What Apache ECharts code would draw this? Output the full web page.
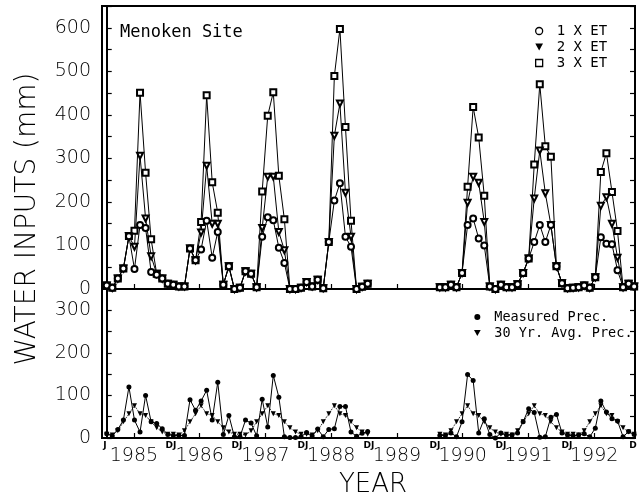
<!DOCTYPE html>
<html><head><meta charset="utf-8">
<script src="https://cdn.jsdelivr.net/npm/echarts@6/dist/echarts.min.js"></script>
<style>html,body{margin:0;padding:0;background:#fff}#c{width:641px;height:498px}</style>
</head><body><div id="c"></div>
<script>
// ---------- DATA (monthly, Jan 1985 .. Dec 1992; 1989 missing) ----------
const years = ['1985','1986','1987','1988','1989','1990','1991','1992'];
const boundaryLabels = ['J','DJ','DJ','DJ','DJ','DJ','DJ','DJ','D'];
const topTickLabels = [0,100,200,300,400,500,600];
const bottomTickLabels = [0,100,200,300];

const et1 = [ // 1 X ET (open circles)
  8,3,24,47,121,46,147,140,39,33,24,12,
  10,6,6,93,66,91,157,72,131,10,52,0,
  3,41,35,4,120,165,158,95,60,0,0,3,
  16,6,21,2,108,203,243,120,97,0,5,12,
  null,null,null,null,null,null,null,null,null,null,null,null,
  4,4,10,4,37,147,162,116,100,6,0,10,
  4,4,11,37,70,108,147,108,147,52,13,2,
  3,4,8,3,27,119,104,103,43,4,12,6];
const et2 = [ // 2 X ET (inverted triangles)
  8,3,24,47,121,97,306,162,75,35,24,12,
  10,6,6,93,66,130,283,150,150,10,52,0,
  3,41,35,4,140,258,258,131,89,0,0,3,
  16,6,21,2,108,352,426,221,120,0,5,12,
  null,null,null,null,null,null,null,null,null,null,null,null,
  4,4,10,4,37,198,258,244,154,6,0,10,
  4,4,11,37,70,208,318,220,147,52,13,2,
  3,4,8,3,27,191,211,150,72,4,12,6];
const et3 = [ // 3 X ET (open squares)
  8,3,24,47,122,134,451,267,114,35,24,12,
  10,6,6,93,66,154,445,245,175,10,52,0,
  3,41,35,4,224,398,452,260,160,0,0,3,
  16,6,21,2,108,489,597,372,157,0,5,12,
  null,null,null,null,null,null,null,null,null,null,null,null,
  4,4,10,4,37,235,418,348,214,6,0,10,
  4,4,11,37,70,286,470,328,304,52,13,2,
  3,4,8,3,27,269,312,223,133,4,12,6];
const measured = [ // Measured Prec.
  10,5,20,42,120,42,14,100,38,34,22,8,
  6,6,6,90,65,87,112,42,131,8,53,3,
  3,42,35,5,91,26,147,96,3,1,1,3,
  13,5,21,3,20,22,74,74,14,4,11,15,
  null,null,null,null,null,null,null,null,null,null,null,null,
  6,6,12,3,38,149,135,12,45,8,0,12,
  7,7,12,38,69,60,2,3,49,55,12,7,
  5,7,10,3,23,87,61,45,40,3,15,8];
const avg30 = [ // 30 Yr. Avg. Prec.
  9,7,17,38,57,76,57,53,38,24,14,9,
  9,7,17,38,57,76,57,53,38,24,14,9,
  9,7,17,38,57,76,57,53,38,24,14,9,
  9,7,17,38,57,76,57,53,38,24,14,9,
  null,null,null,null,null,null,null,null,null,null,null,null,
  9,7,17,38,57,76,57,53,38,24,14,9,
  9,7,17,38,57,76,57,53,38,24,14,9,
  9,7,17,38,57,76,57,53,38,24,14,9];

// ---------- CHART ----------
const toPairs = arr => arr.map((v, i) => [i, v == null ? '-' : v]);
const SANS = "'DejaVu Sans', sans-serif";
const MONO = "'DejaVu Sans Mono', monospace";
const chart = echarts.init(document.getElementById('c'), null, {renderer: 'canvas'});

const hiddenVal = (gi) => ({type:'value', gridIndex: gi, show:false, min:0, max:1});
const dataX = (gi) => ({type:'value', gridIndex: gi, min:-0.85, max:95.15,
  axisLine:{show:false}, axisTick:{show:false}, axisLabel:{show:false}, splitLine:{show:false}});
const yAx = (gi, max, pos, labels, labelList) => ({
  type:'value', gridIndex: gi, position: pos, min:0, max:max, interval:50,
  axisLine:{show:true, lineStyle:{color:'#000', width:2}},
  axisTick:{show:true, inside:true, length:5, lineStyle:{color:'#000', width:1.2}},
  splitLine:{show:false},
  axisLabel:{show: labels, margin:11, color:'#000', fontFamily:SANS, fontSize:19, fontWeight:300,
    showMinLabel:true, showMaxLabel:true,
    formatter: v => (labelList.indexOf(v) >= 0 ? String(v) : '')}
});

chart.setOption({
  animation:false,
  backgroundColor:'#fff',
  grid:[
    {left:102, top:6, width:533, height:283, show:true, borderColor:'#000', borderWidth:2},
    {left:102, top:289, width:533, height:149, show:true, borderColor:'#000', borderWidth:2},
    {left:101, top:289, width:526, height:149, show:false},
    {left:101, top:6, width:526, height:283, show:false},
    {left:105, top:289, width:528, height:149, show:false}
  ],
  xAxis:[
    dataX(0), dataX(1),
    {type:'category', gridIndex:2, data:years, boundaryGap:true,
      axisLine:{show:false},
      axisTick:{show:true, inside:true, alignWithLabel:true, length:5, lineStyle:{color:'#000', width:1.2}},
      axisLabel:{interval:0, margin:9, color:'#000', fontFamily:SANS, fontSize:19, fontWeight:300}},
    {type:'category', gridIndex:3, data:years, boundaryGap:true,
      axisLine:{show:false},
      axisTick:{show:true, inside:true, alignWithLabel:true, length:5, lineStyle:{color:'#000', width:1.2}},
      axisLabel:{show:false}},
    {type:'category', gridIndex:4, data:boundaryLabels, boundaryGap:false,
      axisLine:{show:false}, axisTick:{show:false},
      axisLabel:{interval:0, margin:3, color:'#000', fontFamily:SANS, fontSize:9, fontWeight:'bold'}}
  ],
  yAxis:[
    yAx(0, 650, 'left', true, topTickLabels),
    yAx(0, 650, 'right', false, topTickLabels),
    yAx(1, 350, 'left', true, bottomTickLabels),
    yAx(1, 350, 'right', false, bottomTickLabels),
    hiddenVal(2), hiddenVal(3), hiddenVal(4)
  ],
  legend:[
    {orient:'vertical', left:530, top:19, itemWidth:25, itemHeight:7, itemGap:2,
      selectedMode:false, textStyle:{fontFamily:MONO, fontSize:14, color:'#000', lineHeight:12},
      data:[
        {name:'1 X ET', icon:'circle', itemStyle:{color:'#fff', borderColor:'#000', borderWidth:1.3}},
        {name:'2 X ET', icon:'path://M0,0L10,0L5,9Z', itemStyle:{color:'#000', borderWidth:0}},
        {name:'3 X ET', icon:'path://M0,0L10,0L10,10L0,10Z', itemStyle:{color:'#fff', borderColor:'#000', borderWidth:1.3}}
      ]},
    {orient:'vertical', left:469, top:305, itemWidth:24, itemHeight:6, itemGap:2,
      selectedMode:false, textStyle:{fontFamily:MONO, fontSize:13.5, color:'#000', lineHeight:12},
      data:[
        {name:'Measured Prec.', icon:'circle', itemStyle:{color:'#000', borderWidth:0}},
        {name:'30 Yr. Avg. Prec.', icon:'path://M0,0L10,0L5,9Z', itemStyle:{color:'#000', borderWidth:0}}
      ]}
  ],
  series:[
    {name:'3 X ET', type:'line', xAxisIndex:0, yAxisIndex:0, data:toPairs(et3),
      symbol:'emptyRect', symbolSize:6, connectNulls:false,
      lineStyle:{color:'#000', width:1}, itemStyle:{color:'#000', borderWidth:1.2}},
    {name:'2 X ET', type:'line', xAxisIndex:0, yAxisIndex:0, data:toPairs(et2),
      symbol:'emptyTriangle', symbolRotate:180, symbolSize:6, connectNulls:false,
      lineStyle:{color:'#000', width:1}, itemStyle:{color:'#000', borderWidth:1.2}},
    {name:'1 X ET', type:'line', xAxisIndex:0, yAxisIndex:0, data:toPairs(et1),
      symbol:'emptyCircle', symbolSize:6, connectNulls:false,
      lineStyle:{color:'#000', width:1}, itemStyle:{color:'#000', borderWidth:1.2}},
    {name:'30 Yr. Avg. Prec.', type:'line', xAxisIndex:1, yAxisIndex:2, data:toPairs(avg30),
      symbol:'triangle', symbolRotate:180, symbolSize:5, connectNulls:false,
      lineStyle:{color:'#000', width:1, type:'dotted'}, itemStyle:{color:'#000'}},
    {name:'Measured Prec.', type:'line', xAxisIndex:1, yAxisIndex:2, data:toPairs(measured),
      symbol:'circle', symbolSize:5, connectNulls:false,
      lineStyle:{color:'#000', width:1}, itemStyle:{color:'#000'}}
  ],
  graphic:[
    {type:'text', x:120, y:33, style:{text:'Menoken Site', fontFamily:MONO, fontSize:17, fill:'#000', verticalAlign:'middle', align:'left'}},
    {type:'text', x:373, y:485, style:{text:'YEAR', fontFamily:SANS, fontSize:26, fontWeight:300, fill:'#000', align:'center', verticalAlign:'middle'}},
    {type:'text', x:28, y:219, rotation:Math.PI/2, style:{text:'WATER INPUTS (mm)', fontFamily:SANS, fontSize:28, fontWeight:300, fill:'#000', align:'center', verticalAlign:'middle'}}
  ]
});
</script></body></html>
